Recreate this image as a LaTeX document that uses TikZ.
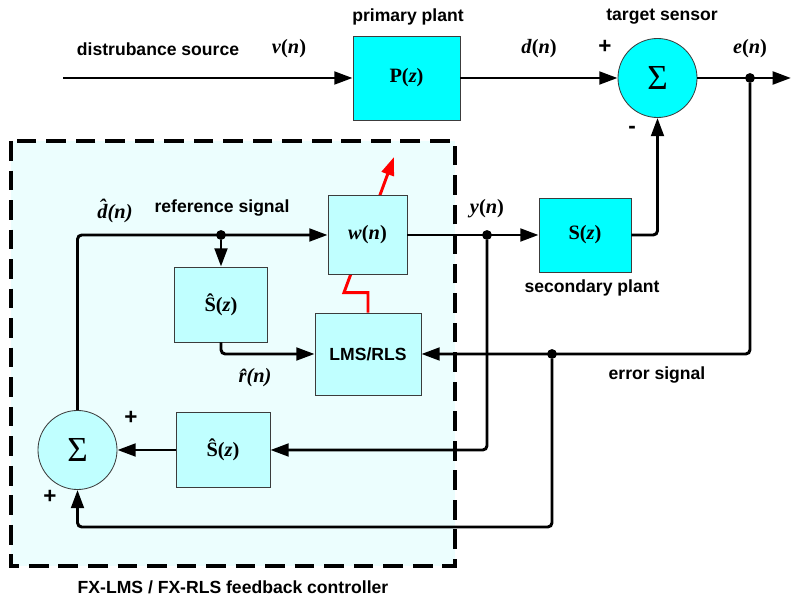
\documentclass[tikz,border=0pt]{standalone}
\usepackage{fontspec}
\setmainfont{Liberation Serif}
\setsansfont{Liberation Sans}
\usetikzlibrary{arrows.meta, backgrounds}
\definecolor{plantcyan}{RGB}{0,255,255}
\definecolor{ctrlcyan}{RGB}{192,255,255}
\definecolor{panelcyan}{RGB}{236,254,254}
\definecolor{edgegray}{RGB}{60,60,60}

\begin{document}
\begin{tikzpicture}[
    x=0.025cm, y=-0.025cm,
    every node/.style={font=\sffamily\bfseries\fontsize{12.5}{14}\selectfont},
    plant/.style={draw=edgegray, line width=0.6pt, fill=plantcyan, font=\bfseries\fontsize{14.5}{16}\selectfont},
    ctrl/.style={draw=edgegray, line width=0.6pt, fill=ctrlcyan, font=\bfseries\fontsize{14.5}{16}\selectfont},
    summer/.style={circle, draw=edgegray, line width=0.6pt, minimum size=1.975cm, inner sep=0pt, font=\fontsize{25}{27}\selectfont},
    sig/.style={font=\bfseries\fontsize{14.5}{16}\selectfont},
    sign/.style={font=\sffamily\bfseries\fontsize{16}{17}\selectfont},
    dot/.style={circle, fill=black, inner sep=0pt, minimum size=7pt},
    arrow/.style={-{Stealth[length=13pt, width=9pt, inset=0pt]}, line width=2.1pt, rounded corners=3pt},
    adapt/.style={-{Stealth[length=13pt, width=9pt, inset=0pt]}, line width=2.1pt, red},
    panel/.style={draw, line width=2.2pt, dash pattern=on 14pt off 7pt, fill=panelcyan}
  ]
    \useasboundingbox (0,0) rectangle (791,596);

    % plants and sensor
    \node[plant, minimum width=2.675cm, minimum height=2.1cm] (pz) at (406.5,78) {P(\textit{z})};
    \node[summer, fill=plantcyan] (sumtop) at (657.5,78) {Σ};
    \node[plant, minimum width=2.3cm, minimum height=1.85cm] (sz) at (585,235) {S(\textit{z})};

    % controller
    \node[ctrl, minimum width=1.975cm, minimum height=1.975cm] (wn) at (367.5,235) {\textit{w}(\textit{n})};
    \node[ctrl, minimum width=2.325cm, minimum height=1.875cm] (shatup) at (221,304.5) {Ŝ(\textit{z})};
    \node[ctrl, minimum width=2.65cm, minimum height=2.05cm, font=\sffamily\bfseries\fontsize{12.5}{14}\selectfont] (lms) at (368,354) {LMS/RLS};
    \node[ctrl, minimum width=2.35cm, minimum height=1.875cm] (shatlo) at (223,450) {Ŝ(\textit{z})};
    \node[summer, fill=ctrlcyan] (sumleft) at (77.5,450) {Σ};

    % branch points
    \node[dot] (edot) at (750,78) {};
    \node[dot] (errdot) at (552,354) {};
    \node[dot] (ydot) at (487,235) {};
    \node[dot] (refdot) at (221,235) {};
    \coordinate (src) at (63,78);
    \coordinate (eout) at (791,78);
    \coordinate (botcorner) at (552,527);
    \coordinate (adapttip) at (394,157);

    \begin{scope}[on background layer]
      \draw[panel] (11,141) rectangle (455,566);
      \draw[adapt] (lms.north) -- ++(0,-20) -- ++(-24,0) -- (adapttip);
    \end{scope}

    \draw[arrow] (src) -- (pz.west);
    \draw[arrow] (pz.east) -- (sumtop.west);
    \draw[arrow] (sumtop.east) -- (eout);
    \draw[arrow] (edot) |- (lms.east);
    \draw[arrow] (errdot) -- (botcorner) -| (sumleft.south);
    \draw[arrow] (sz.east) -| (sumtop.south);
    \draw[arrow] (wn.east) -- (sz.west);
    \draw[arrow] (ydot) |- (shatlo.east);
    \draw[arrow] (shatlo.west) -- (sumleft.east);
    \draw[arrow] (sumleft.north) |- (wn.west);
    \draw[arrow] (refdot) -- (shatup.north);
    \draw[arrow] (shatup.south) |- (lms.west);

    % labels
    \node (lbldist) at (158,49) {distrubance source};
    \node[sig] (lblv) at (289,49) {\textit{v}(\textit{n})};
    \node (lblprim) at (408,17) {primary plant};
    \node[sig] (lbld) at (539,49) {\textit{d}(\textit{n})};
    \node[sign] (plustop) at (605,47) {+};
    \node[sign] (minustop) at (632,130) {-};
    \node (lbltarget) at (662,17) {target sensor};
    \node[sig] (lble) at (750,49) {\textit{e}(\textit{n})};
    \node[sig] (lbly) at (487,209) {\textit{y}(\textit{n})};
    \node (lblsec) at (592,288) {secondary plant};
    \node (lblerr) at (657,375) {error signal};
    \node[sig] (lbldhat) at (115,211) {\textit{\^{d}(n)}};
    \node (lblref) at (222,208) {reference signal};
    \node[sig] (lblrhat) at (255,378) {\textit{\^{r}(n)}};
    \node[sign] (plusup) at (131,418) {+};
    \node[sign] (pluslo) at (50,497) {+};
    \node (lblctrl) at (233,587) {FX-LMS / FX-RLS feedback controller};

  \end{tikzpicture}
\end{document}
